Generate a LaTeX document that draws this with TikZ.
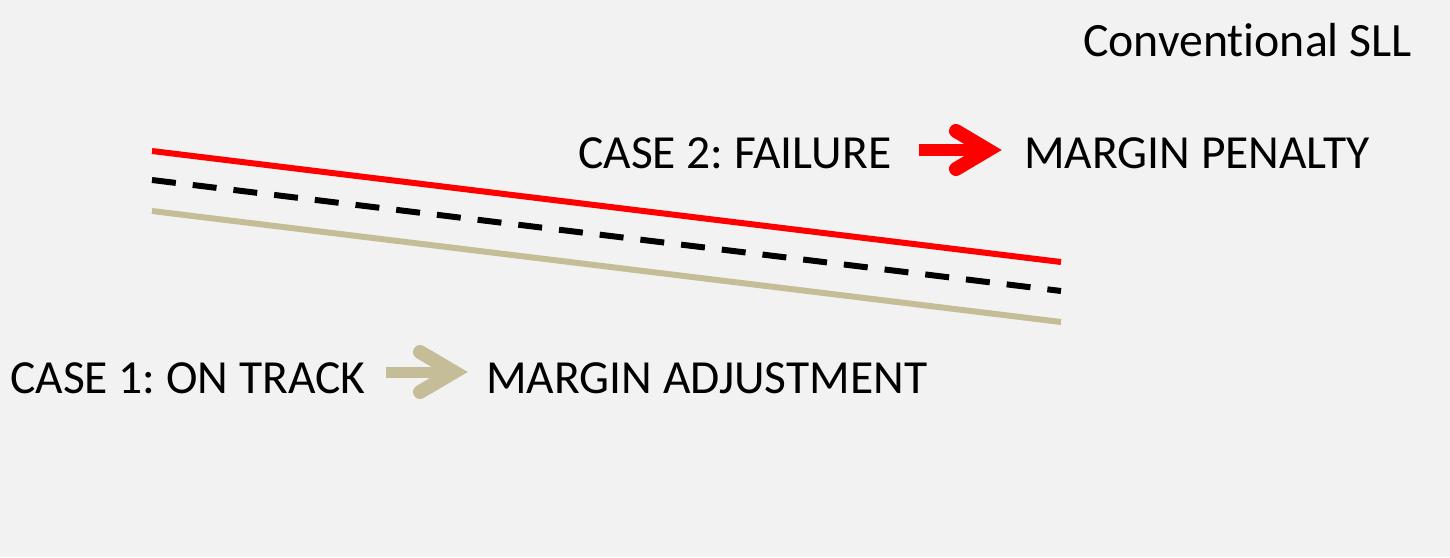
\documentclass[tikz,border=0pt]{standalone}
\usepackage{fontspec}
\setmainfont{Carlito}[Ligatures=NoCommon]
\frenchspacing
\definecolor{bgc}{HTML}{F2F2F2}
\definecolor{tanc}{HTML}{C4BD97}
\definecolor{redc}{HTML}{FF0000}
\begin{document}
\begin{tikzpicture}[x=1pt,y=-1pt,
  lbl/.style={anchor=base west,inner sep=0pt,font=\fontsize{47.5}{57}\selectfont},
  trend/.style={line width=6pt},
  shaft/.style={line width=12pt},
  chev/.style={line width=14pt,line cap=round,line join=miter}]
\useasboundingbox (0,0) rectangle (1450,557);
\fill[bgc] (0,0) rectangle (1450,557);
% trend lines
\draw[trend,redc] (152,151) -- (1061,262);
\draw[trend,black,dash pattern=on 24pt off 17pt] (152,180) -- (1061,291);
\draw[trend,tanc] (152,211) -- (1061,322);
% labels
\node[lbl,font=\fontsize{47.8}{57}\selectfont] (conv) at (1083,56) {Conventional SLL};
\node[lbl] (c2) at (578,168) {CASE 2: FAILURE};
\node[lbl] (mp) at (1024,168) {MARGIN PENALTY};
\node[lbl] (c1) at (10,393) {CASE 1: ON TRACK};
\node[lbl] (ma) at (486,393) {MARGIN ADJUSTMENT};
% red arrow
\draw[shaft,redc] (919,150) -- (990,150);
\draw[chev,redc] (956,131) -- (988,150) -- (956,169);
% tan arrow
\draw[shaft,tanc,line width=11pt] (386,372) -- (456,372);
\draw[chev,tanc] (420,352) -- (454,372) -- (420,392);
\end{tikzpicture}
\end{document}
